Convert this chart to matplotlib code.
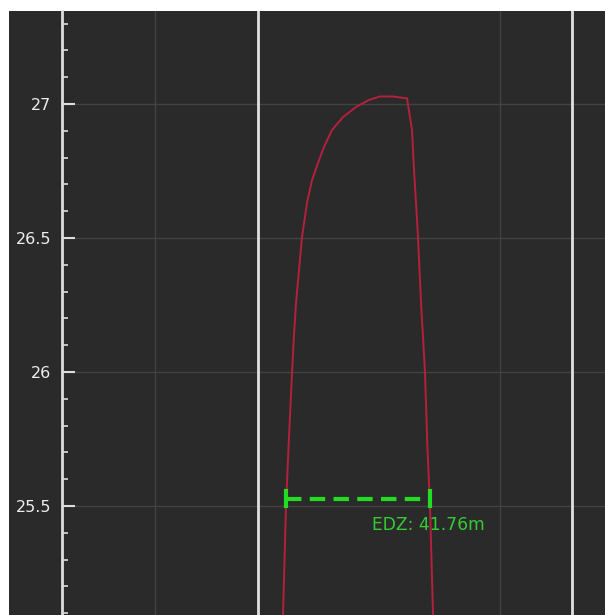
import matplotlib
matplotlib.use("Agg")
import matplotlib.pyplot as plt
from matplotlib.ticker import MultipleLocator, FuncFormatter

# Contour (x in m, elevation y)
curve_x = [137.10, 137.97, 138.70, 139.71, 140.25, 140.87, 141.74, 142.61, 144.06,
           145.51, 147.25, 148.99, 151.30, 154.49, 158.26, 162.03, 165.22, 168.99,
           173.04, 174.49, 175.07, 175.65, 176.23, 177.10, 177.68, 178.26, 178.95,
           179.71, 180.58]
curve_y = [25.093, 25.500, 25.720, 25.996, 26.131, 26.257, 26.381, 26.504, 26.631,
           26.716, 26.780, 26.840, 26.903, 26.951, 26.989, 27.015, 27.028, 27.028,
           27.021, 26.903, 26.754, 26.631, 26.504, 26.257, 26.131, 25.996, 25.720,
           25.500, 25.093]

# Boundary lines
boundary_x = [129.9, 220.9]

# EDZ measurement
edz_x0, edz_x1 = 137.97, 179.73
edz_y = 25.526
edz_label = "EDZ: 41.76m"

xlim = (73.04, 230.43)
ylim = (25.093, 27.347)

bg = "#2a2a2a"
fig = plt.figure(figsize=(6.05, 6.15), dpi=100, facecolor="white")
bgax = fig.add_axes([9 / 605, 0, 1 - 9 / 605, 1 - 11 / 615], zorder=-1)
bgax.axis("off")
bgax.add_patch(plt.Rectangle((0, 0), 1, 1, transform=bgax.transAxes, facecolor=bg, edgecolor="none"))

ax = fig.add_axes([62 / 605, 0, 1 - 62 / 605, 1 - 11 / 615], zorder=1)
ax.set_facecolor(bg)
ax.set_xlim(*xlim)
ax.set_ylim(*ylim)

ax.xaxis.set_major_locator(MultipleLocator(100))
ax.yaxis.set_major_locator(MultipleLocator(0.5))
ax.yaxis.set_minor_locator(MultipleLocator(0.1))
ax.yaxis.set_major_formatter(FuncFormatter(lambda v, p: f"{v:g}"))
ax.grid(True, which="major", color="#424242", linewidth=1.0)
ax.tick_params(axis="x", which="both", bottom=False, labelbottom=False)
ax.tick_params(axis="y", which="major", direction="in", length=9, width=1.5,
               color="#dddddd", labelcolor="#eeeeee", labelsize=11.5, pad=7.5)
ax.tick_params(axis="y", which="minor", direction="in", length=4, width=1.2,
               color="#dddddd")
for s in ["top", "right", "bottom"]:
    ax.spines[s].set_visible(False)
ax.spines["left"].set_color("#dddddd")
ax.spines["left"].set_linewidth(2)

for bx in boundary_x:
    ax.axvline(bx, color="#e0e0e0", linewidth=2, zorder=2)

ax.plot(curve_x, curve_y, color="#b5203c", linewidth=1.4, zorder=3)

ax.plot([edz_x0, edz_x1], [edz_y, edz_y], color="#22dd22", linewidth=3,
        linestyle=(0, (3.7, 2)), zorder=4, solid_capstyle="butt", dash_capstyle="butt")
for ex in (edz_x0, edz_x1):
    ax.plot([ex, ex], [edz_y - 0.028, edz_y + 0.028], color="#22dd22", linewidth=3, zorder=4)
ax.text(179.3, 25.41, edz_label, color="#33cc33", fontsize=12.3,
        ha="center", va="baseline", zorder=5)

fig.savefig("out.png", dpi=100, facecolor=fig.get_facecolor())
